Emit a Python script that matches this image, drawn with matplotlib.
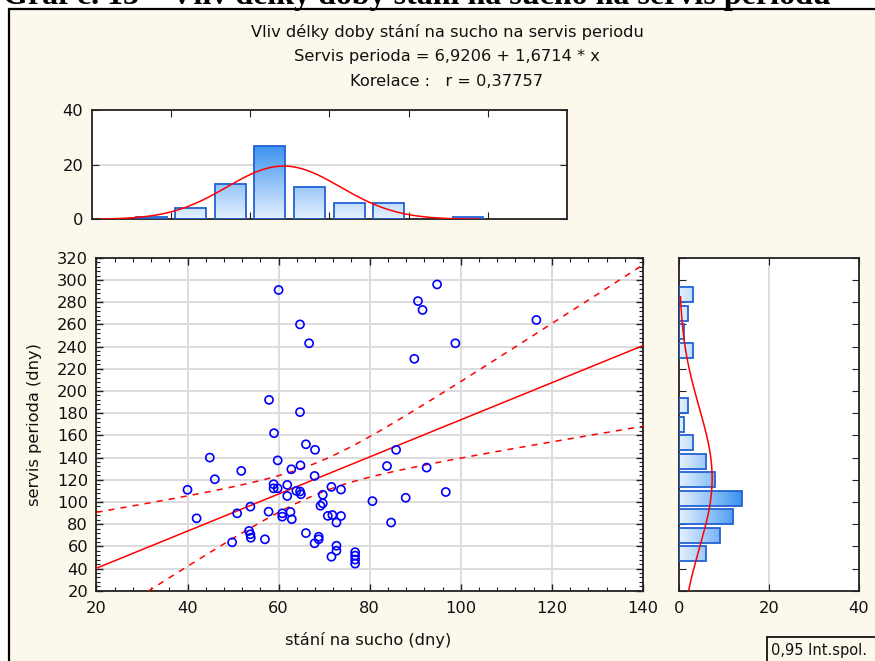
import numpy as np
import matplotlib
matplotlib.use('Agg')
import matplotlib.pyplot as plt
from matplotlib.patches import Rectangle
from matplotlib.colors import LinearSegmentedColormap
from matplotlib.ticker import MultipleLocator, FixedLocator, NullFormatter

# ---------------- data ----------------
stani = [60.0, 64.7, 66.7, 57.9, 64.7, 59.0, 66.0, 68.0, 94.8, 90.6, 91.6, 116.6, 98.8, 89.8, 85.8,
         44.9, 59.8, 62.8, 51.8, 64.8, 67.9, 83.8, 92.5, 46.0, 40.0, 58.9, 58.9, 59.8, 61.9, 61.9,
         63.9, 64.7, 64.9, 69.7, 69.7, 69.2, 71.6, 73.7, 96.7, 80.6, 87.9, 53.8, 50.9, 57.8, 60.8,
         60.8, 62.6, 62.9, 42.0, 70.8, 71.8, 73.7, 72.7, 84.7, 53.5, 53.8, 53.9, 49.8, 57.0, 66.0,
         68.8, 68.8, 67.9, 72.7, 72.7, 71.6, 76.8, 76.8, 76.8, 76.8]
servis = [291, 260, 243, 192, 181, 162, 152, 147, 296, 281, 273, 264, 243, 229, 147,
          140, 137.5, 129.5, 128, 133, 123.5, 132.4, 131, 120.5, 111, 116, 112.3, 112.3, 115.4, 105.4,
          110, 109.5, 107, 106.5, 98.8, 96.6, 113.6, 111.2, 109, 100.8, 103.8, 95.8, 89.8, 91.3, 89.8,
          86.8, 91, 84.5, 85.3, 87.5, 88.3, 87.4, 81.5, 81.5, 73.9, 70.9, 67.8, 63.7, 66.4, 72,
          68.7, 66.4, 62.8, 60.6, 56.1, 50.7, 54.8, 51.7, 48.1, 44.5]
intercept = 6.9206
slope = 1.6714
korelace = "0,37757"
top_edges = [30, 40, 50, 60, 70, 80, 90, 100, 110, 120]
top_counts = [1, 4, 13, 27, 12, 6, 6, 0, 1]
right_range = (45, 295)
right_counts = [6, 9, 12, 14, 8, 6, 3, 1, 2, 0, 0, 3, 1, 2, 3]
x_ticks = [20, 40, 60, 80, 100, 120, 140]
y_ticks = list(range(20, 321, 20))
top_x_ticks = [40, 60, 80, 100, 120]
top_y_ticks = [0, 20, 40]
right_x_ticks = [0, 20, 40]

title1 = "Vliv délky doby stání na sucho na servis periodu"
title2 = "Servis perioda = 6,9206 + 1,6714 * x"
title3 = "Korelace :   r = " + korelace
caption = "Graf č. 13 – Vliv délky doby stání na sucho na servis periodu"
xlabel = "stání na sucho (dny)"
ylabel = "servis perioda (dny)"
legend_txt = "0,95 Int.spol."

# ---------------- style ----------------
W, H = 875, 661
CREAM = '#FDF8EC'
GRID = '#DCDCDC'
EDGE = '#2262D4'
RED = '#FF0000'
TXT = '#111111'
FONT = 'DejaVu Sans'
FS = 11.7
cmap = LinearSegmentedColormap.from_list('g', ['#E6F1FF', '#3A92F0'])

plt.rcParams['font.family'] = FONT

fig = plt.figure(figsize=(W / 100, H / 100), dpi=100, facecolor='white')


def rect_px(l, t, r, b):
    return [l / W, 1 - b / H, (r - l) / W, (b - t) / H]


# outer frame
fig.patches.append(Rectangle((9 / W, -0.2), 1.5, 1 - 9 / H + 0.2, transform=fig.transFigure,
                             facecolor=CREAM, edgecolor='black', lw=1.6, zorder=-5))
fig.text(3 / W, 1 - 4 / H, caption, fontfamily='Liberation Serif', fontweight='bold',
         fontsize=23, va='baseline', ha='left', color='black', zorder=5)

# titles
fig.text(447 / W, 1 - 32 / H, title1, ha='center', va='center', fontsize=FS, color=TXT)
fig.text(447 / W, 1 - 57 / H, title2, ha='center', va='center', fontsize=FS, color=TXT)
fig.text(447 / W, 1 - 81 / H, title3, ha='center', va='center', fontsize=FS, color=TXT)

x = np.array(stani)
y = np.array(servis)
n = len(x)


def style_spines(ax):
    for s in ax.spines.values():
        s.set_color('#222222')
        s.set_linewidth(1.3)


# ---------------- scatter ----------------
ax = fig.add_axes(rect_px(96.4, 257.8, 643, 590.8))
ax.set_facecolor('white')
ax.set_xlim(20, 140)
ax.set_ylim(20, 320)
ax.xaxis.set_major_locator(FixedLocator(x_ticks))
ax.yaxis.set_major_locator(FixedLocator(y_ticks))
ax.xaxis.set_minor_locator(MultipleLocator(4))
ax.yaxis.set_minor_locator(MultipleLocator(4))
ax.grid(True, which='major', color=GRID, lw=1.4, zorder=0)
ax.set_axisbelow(True)
ax.tick_params(which='both', direction='in', top=True, right=True, labelsize=FS,
               colors='#222222', labelcolor=TXT)
ax.tick_params(which='major', length=5, width=1)
ax.tick_params(which='minor', length=3, width=0.8)
ax.tick_params(axis='x', pad=7)
ax.tick_params(axis='y', pad=6)
style_spines(ax)

ax.scatter(x, y, s=34, facecolors='none', edgecolors='#0000FF', linewidths=1.2, zorder=4)

xx = np.linspace(20, 140, 300)
fit = intercept + slope * xx
xbar = x.mean()
sxx = np.sum((x - xbar) ** 2)
resid = y - (intercept + slope * x)
s_res = np.sqrt(np.sum(resid ** 2) / (n - 2))
t_val = 1.9955
hw = t_val * s_res * np.sqrt(1 / n + (xx - xbar) ** 2 / sxx)
ax.plot(xx, fit, color=RED, lw=1.1, zorder=3)
ax.plot(xx, fit + hw, color=RED, lw=1.1, ls=(0, (4, 4)), zorder=3)
ax.plot(xx, fit - hw, color=RED, lw=1.1, ls=(0, (4, 4)), zorder=3)

fig.text(368 / W, 1 - 640 / H, xlabel, ha='center', va='center', fontsize=FS, color=TXT)
fig.text(35 / W, 1 - 425 / H, ylabel, ha='center', va='center', fontsize=FS, color=TXT,
         rotation=90)

# ---------------- top histogram ----------------
axt = fig.add_axes(rect_px(91.7, 110, 567, 219.3))
axt.set_facecolor('white')
edges = np.array(top_edges, dtype=float)
bw = edges[1] - edges[0]
cmax_t = max(top_counts)
for i, c in enumerate(top_counts):
    if c <= 0:
        continue
    l = edges[i] + 0.11 * bw
    w = 0.78 * bw
    rc = Rectangle((l, 0), w, c, facecolor='none', edgecolor=EDGE, lw=1.3, zorder=3)
    axt.add_patch(rc)
    im = axt.imshow(np.linspace(0, 1, 256).reshape(-1, 1), extent=(l, l + w, 0, cmax_t),
                    origin='lower', cmap=cmap, vmin=0, vmax=1, aspect='auto', zorder=2,
                    interpolation='bilinear')
    im.set_clip_path(rc)
mx, sx = x.mean(), x.std(ddof=1)
xc = np.linspace(22, 118, 300)
axt.plot(xc, n * bw * np.exp(-0.5 * ((xc - mx) / sx) ** 2) / (sx * np.sqrt(2 * np.pi)),
         color=RED, lw=1.1, zorder=4)
axt.set_xlim(20, 140)
axt.set_ylim(0, 40)
axt.xaxis.set_major_locator(FixedLocator(top_x_ticks))
axt.xaxis.set_major_formatter(NullFormatter())
axt.yaxis.set_major_locator(FixedLocator(top_y_ticks))
axt.axhline(20, color=GRID, lw=1.4, zorder=0)
axt.tick_params(direction='in', top=True, right=True, length=5, labelsize=FS,
                colors='#222222', labelcolor=TXT, pad=6)
style_spines(axt)

# ---------------- right histogram ----------------
axr = fig.add_axes(rect_px(679.3, 257.8, 859, 590.8))
axr.set_facecolor('white')
redges = np.linspace(right_range[0], right_range[1], len(right_counts) + 1)
rbw = redges[1] - redges[0]
cmax_r = max(right_counts)
for i, c in enumerate(right_counts):
    if c <= 0:
        continue
    b = redges[i] + 0.09 * rbw
    h = 0.82 * rbw
    rc = Rectangle((0, b), c, h, facecolor='none', edgecolor=EDGE, lw=1.3, zorder=3)
    axr.add_patch(rc)
    im = axr.imshow(np.linspace(0, 1, 256).reshape(1, -1), extent=(0, cmax_r, b, b + h),
                    origin='lower', cmap=cmap, vmin=0, vmax=1, aspect='auto', zorder=2,
                    interpolation='bilinear')
    im.set_clip_path(rc)
my, sy = y.mean(), y.std(ddof=1)
yc = np.linspace(20, 285, 300)
axr.plot(rbw * n * np.exp(-0.5 * ((yc - my) / sy) ** 2) / (sy * np.sqrt(2 * np.pi)), yc,
         color=RED, lw=1.1, zorder=4)
axr.set_xlim(0, 40)
axr.set_ylim(20, 320)
axr.xaxis.set_major_locator(FixedLocator(right_x_ticks))
axr.yaxis.set_major_locator(FixedLocator(y_ticks))
axr.yaxis.set_major_formatter(NullFormatter())
axr.axvline(20, color=GRID, lw=1.4, zorder=0)
axr.tick_params(direction='in', top=True, right=True, length=5, labelsize=FS,
                colors='#222222', labelcolor=TXT)
axr.tick_params(axis='x', pad=7)
style_spines(axr)

# ---------------- legend box (cut at the edge) ----------------
fig.patches.append(Rectangle((767 / W, -0.1), 0.5, 0.1 + (661 - 637) / H,
                             transform=fig.transFigure, facecolor=CREAM,
                             edgecolor='black', lw=1.2, zorder=3))
fig.text(771 / W, 1 - 650 / H, legend_txt, ha='left', va='center', fontsize=10.5, color=TXT,
         zorder=4)

fig.savefig('out.png', dpi=100, facecolor=fig.get_facecolor())
